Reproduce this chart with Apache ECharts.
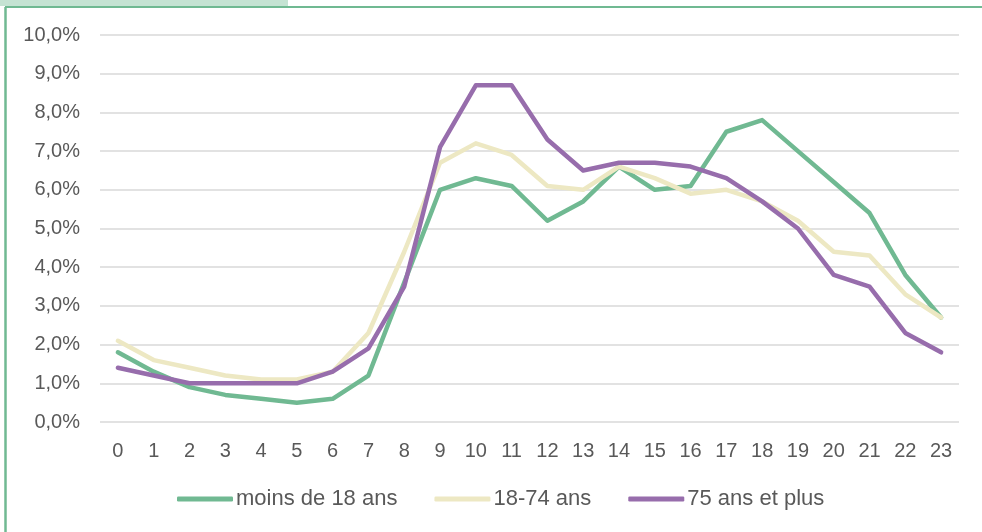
<!DOCTYPE html>
<html>
<head>
<meta charset="utf-8">
<script src="https://cdn.jsdelivr.net/npm/echarts@6/dist/echarts.min.js"></script>
<style>
html,body{margin:0;padding:0;background:#fff;}
#chart{width:982px;height:532px;}
</style>
</head>
<body>
<div id="chart"></div>
<script>
const hours = ['0','1','2','3','4','5','6','7','8','9','10','11','12','13','14','15','16','17','18','19','20','21','22','23'];
const moins18 = [1.8,1.3,0.9,0.7,0.6,0.5,0.6,1.2,3.6,6.0,6.3,6.1,5.2,5.7,6.6,6.0,6.1,7.5,7.8,7.0,6.2,5.4,3.8,2.7];
const ans18_74 = [2.1,1.6,1.4,1.2,1.1,1.1,1.3,2.3,4.4,6.7,7.2,6.9,6.1,6.0,6.6,6.3,5.9,6.0,5.7,5.2,4.4,4.3,3.3,2.7];
const plus75 = [1.4,1.2,1.0,1.0,1.0,1.0,1.3,1.9,3.5,7.1,8.7,8.7,7.3,6.5,6.7,6.7,6.6,6.3,5.7,5.0,3.8,3.5,2.3,1.8];
const seriesNames = ['moins de 18 ans','18-74 ans','75 ans et plus'];
const colors = ['#70b992','#ede8c3','#976dac'];

const chart = echarts.init(document.getElementById('chart'));
const font = '"Liberation Sans", "DejaVu Sans", sans-serif';
const mk = (name, data, color) => ({
  name: name, type: 'line', data: data, symbol: 'none', smooth: false,
  lineStyle: {width: 4.5, color: color, cap: 'round', join: 'round'},
  itemStyle: {color: color}
});
chart.setOption({
  animation: false,
  color: colors,
  graphic: [
    {type: 'rect', shape: {x: 0, y: 0, width: 288, height: 6}, style: {fill: '#c5e3d3'}},
    {type: 'line', shape: {x1: 5.5, y1: 7, x2: 5.5, y2: 532}, style: {stroke: '#70b992', lineWidth: 2.5}},
    {type: 'line', shape: {x1: 5, y1: 7, x2: 982, y2: 7}, style: {stroke: '#70b992', lineWidth: 2}}
  ],
  grid: {left: 100, right: 23, top: 35, bottom: 110, containLabel: false},
  legend: {
    data: seriesNames,
    top: 483, left: 172,
    icon: 'roundRect', itemWidth: 56, itemHeight: 5, itemGap: 37,
    textStyle: {color: '#595959', fontSize: 22, lineHeight: 22, fontFamily: font, padding: [0, 0, 0, -2]}
  },
  xAxis: {
    type: 'category', data: hours, boundaryGap: true,
    axisLine: {show: false}, axisTick: {show: false},
    axisLabel: {color: '#595959', fontSize: 20, fontFamily: font, margin: 19, interval: 0}
  },
  yAxis: {
    type: 'value', min: 0, max: 10, interval: 1,
    axisLine: {show: false}, axisTick: {show: false},
    axisLabel: {color: '#595959', fontSize: 20, fontFamily: font, margin: 20,
      formatter: v => v.toFixed(1).replace('.', ',') + '%'},
    splitLine: {lineStyle: {color: '#d9d9d9', width: 1.5}}
  },
  series: [
    mk(seriesNames[0], moins18, colors[0]),
    mk(seriesNames[1], ans18_74, colors[1]),
    mk(seriesNames[2], plus75, colors[2])
  ]
});
</script>
</body>
</html>
